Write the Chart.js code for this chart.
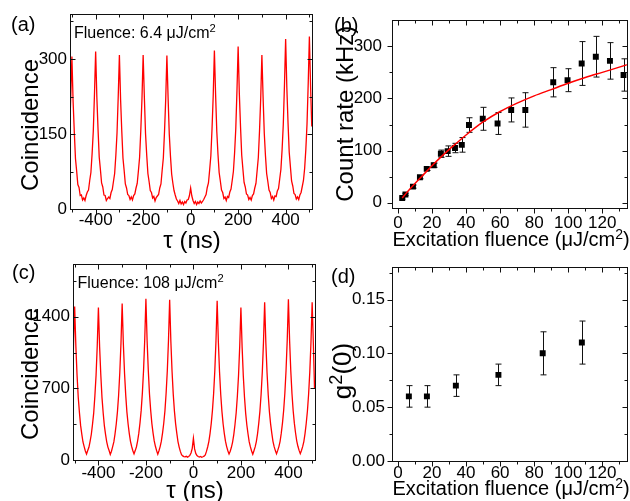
<!DOCTYPE html>
<html>
<head>
<meta charset="utf-8">
<script src="https://cdn.jsdelivr.net/npm/chart.js@4.4.1/dist/chart.umd.min.js"></script>
<style>
    html, body { margin: 0; padding: 0; background: #fff; }
    body { width: 630px; height: 501px; overflow: hidden; position: relative; }
    canvas { position: absolute; }
</style>
</head>
<body>
<canvas id="panelA" width="320" height="262" style="left:0;top:0"></canvas>
<canvas id="panelB" width="316" height="262" style="left:315px;top:0"></canvas>
<canvas id="panelC" width="320" height="251" style="left:0;top:250px"></canvas>
<canvas id="panelD" width="316" height="251" style="left:315px;top:250px"></canvas>
<script>
const FONT = '"Liberation Sans", Arial, sans-serif';
const RED = "#ff0000";

// histogram bins: tau = -510 ns ... 510 ns, 5 ns wide
const tauStart = -510;
const tauStep = 5;

// (a) 6.4 uJ/cm2
const countsLow = [
    150, 222, 305, 216, 155, 101, 76, 49, 43, 27,
    28, 18, 22, 17, 27, 34, 38, 57, 73, 110,
    155, 229, 315, 224, 160, 104, 79, 52, 44, 28,
    27, 17, 21, 24, 21, 33, 39, 55, 71, 107,
    152, 224, 308, 219, 156, 102, 77, 50, 42, 29,
    27, 19, 24, 18, 27, 30, 42, 51, 76, 103,
    156, 220, 308, 225, 151, 108, 71, 55, 37, 33,
    22, 25, 16, 23, 26, 29, 42, 50, 77, 102,
    155, 219, 307, 223, 150, 106, 70, 52, 37, 28,
    20, 16, 11, 17, 10, 14, 9, 15, 12, 18,
    19, 27, 42, 26, 17, 11, 15, 9, 14, 11,
    16, 12, 15, 19, 24, 29, 43, 52, 78, 106,
    160, 226, 317, 230, 156, 110, 73, 56, 38, 33,
    21, 24, 17, 25, 23, 34, 40, 57, 75, 112,
    160, 236, 325, 231, 165, 108, 80, 53, 44, 30,
    28, 19, 23, 18, 27, 30, 42, 51, 77, 103,
    156, 221, 308, 224, 152, 107, 71, 55, 38, 33,
    21, 25, 18, 26, 25, 36, 41, 60, 79, 118,
    168, 247, 340, 243, 173, 114, 85, 56, 46, 31,
    29, 20, 24, 19, 28, 33, 45, 57, 81, 119,
    170, 250, 345, 246, 165
];

// (c) 108 uJ/cm2
const countsHigh = [
    600, 1110, 1500, 1115, 830, 615, 465, 338, 252, 176,
    131, 88, 58, 92, 124, 182, 249, 345, 455, 622,
    824, 1112, 1490, 1108, 835, 612, 462, 336, 251, 178,
    126, 93, 55, 86, 130, 177, 256, 349, 468, 630,
    852, 1140, 1530, 1136, 848, 634, 468, 352, 258, 182,
    132, 90, 60, 92, 127, 185, 260, 360, 482, 651,
    872, 1172, 1575, 1168, 878, 648, 487, 358, 265, 186,
    134, 92, 57, 90, 131, 184, 262, 357, 478, 650,
    868, 1165, 1565, 1162, 870, 646, 480, 356, 262, 180,
    126, 84, 52, 40, 33, 30, 36, 28, 34, 45,
    68, 112, 212, 108, 64, 44, 34, 29, 35, 27,
    32, 38, 50, 84, 127, 180, 258, 355, 480, 645,
    866, 1160, 1556, 1158, 862, 642, 478, 354, 260, 184,
    131, 90, 58, 86, 124, 175, 248, 344, 459, 620,
    826, 1112, 1490, 1110, 826, 618, 458, 342, 254, 177,
    128, 88, 56, 91, 128, 180, 256, 356, 475, 640,
    855, 1148, 1540, 1146, 854, 638, 472, 353, 262, 183,
    130, 92, 60, 94, 131, 183, 262, 360, 484, 650,
    872, 1168, 1570, 1170, 873, 650, 484, 360, 266, 187,
    134, 94, 62, 93, 130, 180, 258, 357, 476, 640,
    856, 1148, 1540, 1140, 700
];

// (b) count rate vs fluence
const fluenceB = [2.5, 4.4, 8.8, 12.9, 16.9, 21, 25.2, 29.2, 33.5, 37.5, 41.7, 49.8, 58.5, 66.5, 74.8, 91.2, 99.6, 107.9, 116.2, 124.5, 132.5];
const rateB    = [9, 16, 31, 49, 65, 72, 94, 99, 105, 111, 149, 161, 152, 178, 178, 231, 235, 267, 280, 272, 245];
const rateErrB = [2, 2, 3, 3, 3, 4, 7, 10, 9, 14, 14, 22, 21, 23, 33, 28, 22, 42, 39, 35, 31];
const fitFluence = [2.5, 5, 10, 15, 20, 25, 30, 35, 40, 50, 60, 70, 80, 90, 100, 110, 120, 130, 135];
const fitRate    = [9, 19, 37, 54, 71, 87, 102, 116, 130, 155, 175, 191, 205, 217, 229, 240, 250, 260, 265];

// (d) g2(0) vs fluence
const fluenceD = [6.4, 17, 34, 59, 85, 108];
const g2D      = [0.06, 0.06, 0.07, 0.08, 0.10, 0.11];
const g2ErrD   = [0.01, 0.01, 0.01, 0.01, 0.02, 0.02];

// tick labels
const tauTicks = [-400, -200, 0, 200, 400];
const tauMinor = [-500, -300, -100, 100, 300, 500];
const lowTicks = [0, 150, 300];
const lowMinor = [75, 225, 375];
const highTicks = [0, 700, 1400];
const highMinor = [350, 1050, 1750];
const fluenceTicks = [0, 20, 40, 60, 80, 100, 120];
const fluenceMinor = [10, 30, 50, 70, 90, 110, 130];
const rateTicks = [0, 100, 200, 300];
const rateMinor = [50, 150, 250];
const g2Ticks = [0, 0.05, 0.10, 0.15];
const g2Minor = [0.025, 0.075, 0.125, 0.175];

Chart.defaults.font.family = FONT;
Chart.defaults.color = "#000";

// frame + inward/outward tick marks, like an Origin plot
const framePlugin = {
    id: "frame",
    afterDraw(chart, args, o) {
        const { ctx, chartArea: a, scales: { x, y } } = chart;
        const r = v => Math.round(v) + 0.5;
        ctx.save();
        ctx.strokeStyle = "#111";
        ctx.lineWidth = 1;
        ctx.strokeRect(r(a.left), r(a.top), Math.round(a.right - a.left), Math.round(a.bottom - a.top));
        ctx.beginPath();
        const xMarks = (vals, len) => vals.forEach(v => {
            const px = r(x.getPixelForValue(v));
            if (px < a.left || px > a.right) return;
            ctx.moveTo(px, r(a.bottom)); ctx.lineTo(px, r(a.bottom) + len);
            ctx.moveTo(px, r(a.top)); ctx.lineTo(px, r(a.top) + len);
        });
        const yMarks = (vals, len) => vals.forEach(v => {
            const py = r(y.getPixelForValue(v));
            if (py < a.top - 1 || py > a.bottom + 1) return;
            const l = o.leftOut ? -len : len;
            ctx.moveTo(r(a.left), py); ctx.lineTo(r(a.left) + l, py);
            ctx.moveTo(r(a.right), py); ctx.lineTo(r(a.right) - len, py);
        });
        xMarks(o.xMajor, 5);
        xMarks(o.xMinor, 3);
        yMarks(o.yMajor, 5);
        yMarks(o.yMinor, 3);
        ctx.stroke();
        ctx.restore();
    }
};

const errorBarPlugin = {
    id: "errorBars",
    beforeDatasetsDraw(chart, args, o) {
        if (!o.xs) return;
        const { ctx, scales: { x, y } } = chart;
        ctx.save();
        ctx.strokeStyle = "#111";
        ctx.lineWidth = 1;
        ctx.beginPath();
        o.xs.forEach((xv, i) => {
            const px = Math.round(x.getPixelForValue(xv)) + 0.5;
            const top = y.getPixelForValue(o.ys[i] + o.errs[i]);
            const bot = y.getPixelForValue(o.ys[i] - o.errs[i]);
            ctx.moveTo(px, top); ctx.lineTo(px, bot);
            ctx.moveTo(px - 3, top); ctx.lineTo(px + 3, top);
            ctx.moveTo(px - 3, bot); ctx.lineTo(px + 3, bot);
        });
        ctx.stroke();
        ctx.restore();
    }
};

// free text (panel letters, annotations, axis titles with superscripts)
const SUP = 0.7;
const textPlugin = {
    id: "texts",
    afterDraw(chart, args, o) {
        const ctx = chart.ctx;
        o.items.forEach(it => {
            ctx.save();
            ctx.translate(it.x - o.ox, it.y - o.oy);
            if (it.rot) ctx.rotate(it.rot);
            ctx.fillStyle = "#000";
            ctx.textBaseline = "alphabetic";
            ctx.textAlign = "left";
            const widths = it.parts.map(([s, sup]) => {
                ctx.font = `${sup ? it.size * SUP : it.size}px ${FONT}`;
                return ctx.measureText(s).width;
            });
            const total = widths.reduce((p, w) => p + w, 0);
            let cx = it.align === "center" ? -total / 2 : 0;
            it.parts.forEach(([s, sup], i) => {
                ctx.font = `${sup ? it.size * SUP : it.size}px ${FONT}`;
                ctx.fillText(s, cx, sup ? -it.size * 0.36 : 0);
                cx += widths[i];
            });
            ctx.restore();
        });
    }
};

function fixedTicks(vals) {
    return s => { s.ticks = vals.map(v => ({ value: v })); };
}

function axis(min, max, ticks, size, pad, fmt) {
    return {
        type: "linear", min, max,
        grid: { display: false, drawTicks: false },
        border: { display: false },
        afterBuildTicks: fixedTicks(ticks),
        afterFit: s => { if (s.isHorizontal()) s.height = size; else s.width = size; },
        ticks: {
            padding: pad, color: "#000", autoSkip: false, maxRotation: 0,
            font: { size: 17 },
            callback: fmt || (v => String(v)),
        },
    };
}

const baseOptions = {
    responsive: false,
    animation: false,
    events: [],
};

function histogram(id, counts, yMax, yTicks, yMinor, xr, pad, xH, texts) {
    const pts = counts.map((c, i) => ({ x: tauStart + i * tauStep, y: c }));
    return new Chart(document.getElementById(id), {
        type: "line",
        data: { datasets: [{ data: pts, borderColor: RED, borderWidth: 1.3, pointRadius: 0, tension: 0 }] },
        options: {
            ...baseOptions,
            layout: { padding: pad },
            plugins: {
                legend: { display: false },
                tooltip: { enabled: false },
                frame: { xMajor: tauTicks, xMinor: tauMinor, yMajor: yTicks, yMinor: yMinor, leftOut: false },
                texts,
            },
            scales: {
                x: axis(xr[0], xr[1], tauTicks, xH, xr[2]),
                y: axis(0, yMax, yTicks, xr[3], 3),
            },
        },
        plugins: [framePlugin, textPlugin],
    });
}

histogram("panelA", countsLow, 390, lowTicks, lowMinor, [-508, 511, 1, 70], { top: 14, right: 8 }, 53, {
    ox: 0, oy: 0,
    items: [
        { parts: [["(a)"]], x: 11, y: 31, size: 20 },
        { parts: [["Fluence: 6.4 \u03bcJ/cm"], ["2", 1]], x: 74, y: 37.5, size: 16 },
        { parts: [["Coincidence"]], x: 38, y: 125, size: 24, rot: -Math.PI / 2, align: "center" },
        { parts: [["\u03c4 (ns)"]], x: 192, y: 248, size: 24, align: "center" },
    ],
});

histogram("panelC", countsHigh, 1915, highTicks, highMinor, [-507, 512, 3, 73], { top: 14, right: 5 }, 41, {
    ox: 0, oy: 250,
    items: [
        { parts: [["(c)"]], x: 12, y: 278.5, size: 20 },
        { parts: [["Fluence: 108 \u03bcJ/cm"], ["2", 1]], x: 77.5, y: 288, size: 16 },
        { parts: [["Coincidence"]], x: 38, y: 374, size: 24, rot: -Math.PI / 2, align: "center" },
        { parts: [["\u03c4 (ns)"]], x: 195, y: 497.5, size: 24, align: "center" },
    ],
});

const fluenceTitle = [["Excitation fluence (\u03bcJ/cm"], ["2", 1], [")"]];

new Chart(document.getElementById("panelB"), {
    type: "scatter",
    data: {
        datasets: [
            {
                data: fitFluence.map((f, i) => ({ x: f, y: fitRate[i] })),
                showLine: true, borderColor: RED, borderWidth: 1.5, pointRadius: 0,
                cubicInterpolationMode: "monotone",
            },
            {
                data: fluenceB.map((f, i) => ({ x: f, y: rateB[i] })),
                pointStyle: "rect", pointRadius: 4.2, backgroundColor: "#000", borderWidth: 0,
            },
        ],
    },
    options: {
        ...baseOptions,
        layout: { padding: { top: 14, right: 0 } },
        plugins: {
            legend: { display: false },
            tooltip: { enabled: false },
            frame: { xMajor: fluenceTicks, xMinor: fluenceMinor, yMajor: rateTicks, yMinor: rateMinor, leftOut: true },
            errorBars: { xs: fluenceB, ys: rateB, errs: rateErrB },
            texts: {
                ox: 315, oy: 0,
                items: [
                    { parts: [["(b)"]], x: 334, y: 31.5, size: 20 },
                    { parts: [["Count rate (kHz)"]], x: 352.5, y: 113.7, size: 24, rot: -Math.PI / 2, align: "center" },
                    { parts: fluenceTitle, x: 511, y: 246, size: 20, align: "center" },
                ],
            },
        },
        scales: {
            x: axis(-3.5, 134.4, fluenceTicks, 54, 5),
            y: axis(-10, 350, rateTicks, 77, 10),
        },
    },
    plugins: [errorBarPlugin, framePlugin, textPlugin],
});

new Chart(document.getElementById("panelD"), {
    type: "scatter",
    data: {
        datasets: [{
            data: fluenceD.map((f, i) => ({ x: f, y: g2D[i] })),
            pointStyle: "rect", pointRadius: 4.2, backgroundColor: "#000", borderWidth: 0,
        }],
    },
    options: {
        ...baseOptions,
        layout: { padding: { top: 16, right: 0 } },
        plugins: {
            legend: { display: false },
            tooltip: { enabled: false },
            frame: { xMajor: fluenceTicks, xMinor: fluenceMinor, yMajor: g2Ticks, yMinor: g2Minor, leftOut: true },
            errorBars: { xs: fluenceD, ys: g2D, errs: g2ErrD },
            texts: {
                ox: 315, oy: 250,
                items: [
                    { parts: [["(d)"]], x: 331, y: 282.5, size: 20 },
                    { parts: [["g"], ["2", 1], ["(0)"]], x: 351, y: 371, size: 26, rot: -Math.PI / 2, align: "center" },
                    { parts: fluenceTitle, x: 511, y: 495, size: 20, align: "center" },
                ],
            },
        },
        scales: {
            x: axis(-3.5, 134.4, fluenceTicks, 40, 2),
            y: axis(0, 0.18, g2Ticks, 77, 7, v => v.toFixed(2)),
        },
    },
    plugins: [errorBarPlugin, framePlugin, textPlugin],
});
</script>
</body>
</html>
